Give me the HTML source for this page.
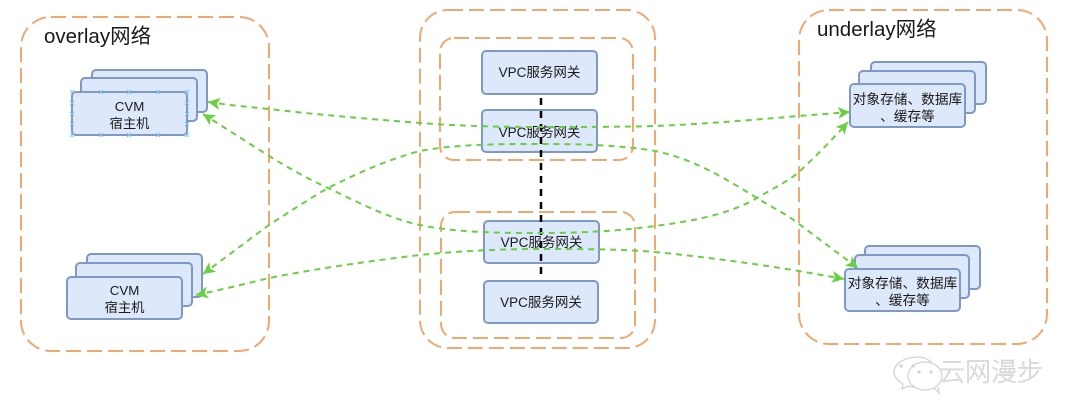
<!DOCTYPE html>
<html>
<head>
<meta charset="utf-8">
<style>
html,body{margin:0;padding:0;background:#fff;width:1080px;height:420px;overflow:hidden}
svg{display:block;filter:blur(0.3px)}
text{font-family:"Liberation Sans","Noto Sans CJK SC",sans-serif;fill:#1a1a1a;text-anchor:middle}
.g{fill:none;stroke:#f0a870;stroke-width:2;stroke-dasharray:15 6}
.b{fill:#dde8fa;stroke:#7e99c6;stroke-width:2}
.a{fill:none;stroke:#68d040;stroke-width:2;stroke-dasharray:6 5;marker-start:url(#ah);marker-end:url(#ah)}
.n{font-size:13.5px}
.s{font-size:13.7px}
.c{font-size:13.3px}
.t{font-size:20.5px;text-anchor:start}
.x{stroke:#7cc4f0;stroke-width:1;fill:none}
</style>
</head>
<body>
<svg width="1080" height="420" viewBox="0 0 1080 420" xmlns="http://www.w3.org/2000/svg">
<defs>
<marker id="ah" markerUnits="userSpaceOnUse" markerWidth="14" markerHeight="14" refX="12" refY="6.5" orient="auto-start-reverse">
<path d="M12,6.5 L0,0.500 L3,6.5 L0,12.500 Z" fill="#68d040"/>
</marker>
</defs>

<rect class="g" x="21" y="17" width="248" height="334" rx="30"/>
<rect class="g" x="420" y="10" width="235" height="338" rx="28"/>
<rect class="g" x="440" y="38" width="193" height="122" rx="14"/>
<rect class="g" x="441" y="212" width="194" height="126" rx="14"/>
<rect class="g" x="799" y="10" width="248" height="334" rx="30"/>

<text class="t" x="44" y="43">overlay网络</text>
<text class="t" x="817" y="36">underlay网络</text>

<rect class="b" x="92" y="70" width="115" height="42" rx="4"/>
<rect class="b" x="81" y="78" width="116" height="43" rx="4"/>
<rect class="b" x="72" y="92" width="115" height="43" rx="4"/>
<text class="c" x="129.500" y="111">CVM</text>
<text class="c" x="129.500" y="128">宿主机</text>
<path class="x" d="M70,90l4,4m0,-4l-4,4M99,90l4,4m0,-4l-4,4M127,90l4,4m0,-4l-4,4M156,90l4,4m0,-4l-4,4M185,90l4,4m0,-4l-4,4M70,133l4,4m0,-4l-4,4M99,133l4,4m0,-4l-4,4M127,133l4,4m0,-4l-4,4M156,133l4,4m0,-4l-4,4M185,133l4,4m0,-4l-4,4M70,101l4,4m0,-4l-4,4M70,112l4,4m0,-4l-4,4M70,122l4,4m0,-4l-4,4M185,101l4,4m0,-4l-4,4M185,112l4,4m0,-4l-4,4M185,122l4,4m0,-4l-4,4"/>

<rect class="b" x="87" y="254" width="115" height="43" rx="4"/>
<rect class="b" x="76" y="263" width="116" height="43" rx="4"/>
<rect class="b" x="67" y="277" width="115" height="42" rx="4"/>
<text class="c" x="124.500" y="295">CVM</text>
<text class="c" x="124.500" y="312">宿主机</text>

<rect class="b" x="871" y="62" width="115" height="42" rx="4"/>
<rect class="b" x="859" y="71" width="116" height="42" rx="4"/>
<rect class="b" x="850" y="84" width="115" height="43" rx="4"/>
<text class="s" x="907.500" y="104">对象存储、数据库</text>
<text class="s" x="907.500" y="121">、缓存等</text>

<rect class="b" x="865" y="246" width="115" height="43" rx="4"/>
<rect class="b" x="855" y="255" width="114" height="43" rx="4"/>
<rect class="b" x="845" y="269" width="115" height="42" rx="4"/>
<text class="s" x="902.500" y="288">对象存储、数据库</text>
<text class="s" x="902.500" y="305">、缓存等</text>

<rect class="b" x="482" y="51" width="115" height="43" rx="4"/>
<rect class="b" x="482" y="110" width="115" height="42" rx="4"/>
<rect class="b" x="484" y="221" width="115" height="42" rx="4"/>
<rect class="b" x="484" y="281" width="114" height="42" rx="4"/>
<text class="n" x="539.500" y="77">VPC服务网关</text>
<text class="n" x="539.500" y="137">VPC服务网关</text>
<text class="n" x="541.500" y="247">VPC服务网关</text>
<text class="n" x="541" y="307">VPC服务网关</text>

<path d="M541,98 L541,280" fill="none" stroke="#000" stroke-width="2.500" stroke-dasharray="7 6"/>

<path class="a" d="M208,102 C228,105 248,107 269,109 C320,115 370,119 420,123 C460,126 500,127 540,127 C580,127 620,127 655,126 C705,124 750,120 799,116 L850,112"/>
<path class="a" d="M203,114 C225,128 247,142 269,156 C289,168 306,178 328,188 C353,199.500 385,217.500 420,225 C455,232.500 500,233 540,233 C580,233 620,231 655,226 C692,221 728,215 757,198 C772,189 787,182 799,172 C815,157 832,140 848,122"/>
<path class="a" d="M203,274 C225,258 247,241 269,225 C289,212 306,201 328,188 C356,174 386,160 420,151 C458,144 500,144 540,144 C580,144 620,145 655,151 C694,159 726,179 757,198 C771,207 785,213 799,224 C819,239 839,254 858,268"/>
<path class="a" d="M196,295 C220,290 245,284 269,278 C320,268 370,261 420,255 C460,251 500,249 540,249 C580,249 620,249 655,252 C705,257 750,263 799,271 L844,279"/>

<g fill="#fff" stroke="#d4d4d4" stroke-width="1.300">
<path d="M918,357 C908,357 894,362 894,372 C894,378 899,381 903,384 L902,389 L908,386 C911,387 914,387 917,387 C926,387 935,380 935,371 C935,363 927,357 918,357 Z" fill="#fff"/>
<ellipse cx="925" cy="376" rx="17" ry="14"/>
<path d="M934,388 L939,393 L938,387" />
<circle cx="901" cy="366" r="1" fill="#ccc"/>
<circle cx="913" cy="366" r="1" fill="#ccc"/>
<circle cx="919" cy="372" r="1" fill="#ccc"/>
<circle cx="931" cy="372" r="1" fill="#ccc"/>
</g>
<text x="991" y="381" style="font-size:26px;fill:#e2e2e2;stroke:#c9c9c9;stroke-width:.4px;font-family:'Noto Sans CJK SC',sans-serif;font-weight:300">云网漫步</text>
</svg>
</body>
</html>
